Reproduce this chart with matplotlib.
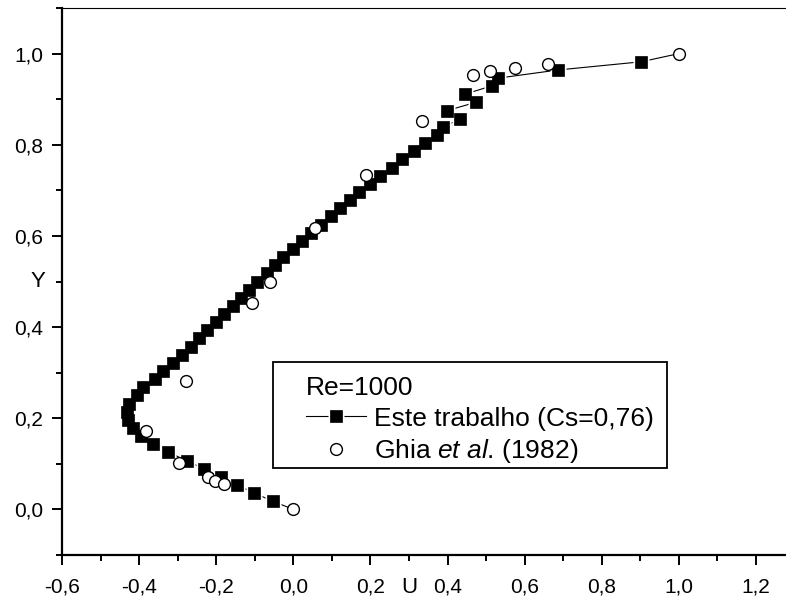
import matplotlib
matplotlib.use("Agg")
import matplotlib.pyplot as plt
from matplotlib.ticker import MultipleLocator, FuncFormatter
from matplotlib.legend_handler import HandlerTuple
from matplotlib.patches import Rectangle

plt.rcParams["font.family"] = ["Liberation Sans", "DejaVu Sans"]
plt.rcParams["mathtext.fontset"] = "custom"
plt.rcParams["mathtext.rm"] = "Liberation Sans"
plt.rcParams["mathtext.it"] = "Liberation Sans:italic"

# Centreline U profile, present LES run (Cs = 0.76)
sim_y = [0.0, 0.018, 0.036, 0.054, 0.071, 0.089, 0.107, 0.125, 0.143, 0.161,
         0.179, 0.196, 0.214, 0.232, 0.250, 0.268, 0.286, 0.304, 0.321, 0.339,
         0.357, 0.375, 0.393, 0.411, 0.429, 0.446, 0.464, 0.482, 0.500, 0.518,
         0.536, 0.554, 0.571, 0.589, 0.607, 0.625, 0.643, 0.661, 0.679, 0.696,
         0.714, 0.732, 0.750, 0.768, 0.786, 0.804, 0.821, 0.839, 0.857, 0.875,
         0.893, 0.911, 0.929, 0.946, 0.964, 0.982, 1.0]
sim_u = [0.0, -0.053, -0.102, -0.147, -0.188, -0.233, -0.276, -0.324, -0.365,
         -0.396, -0.416, -0.430, -0.432, -0.427, -0.406, -0.389, -0.360, -0.339,
         -0.313, -0.289, -0.266, -0.244, -0.223, -0.200, -0.180, -0.157, -0.136,
         -0.114, -0.093, -0.069, -0.047, -0.026, -0.002, 0.022, 0.046, 0.071,
         0.097, 0.121, 0.147, 0.171, 0.199, 0.225, 0.255, 0.283, 0.314, 0.342,
         0.372, 0.389, 0.433, 0.399, 0.473, 0.445, 0.514, 0.530, 0.686, 0.902,
         1.0]

# Ghia, Ghia & Shin (1982), Re = 1000
ghia_y = [1.0000, 0.9766, 0.9688, 0.9609, 0.9531, 0.8516, 0.7344, 0.6172,
          0.5000, 0.4531, 0.2813, 0.1719, 0.1016, 0.0703, 0.0625, 0.0547, 0.0]
ghia_u = [1.0, 0.65928, 0.57492, 0.51117, 0.46604, 0.33304, 0.18719, 0.05702,
          -0.06080, -0.10648, -0.27805, -0.38289, -0.29730, -0.22220, -0.20196,
          -0.18109, 0.0]

W, H = 786, 600
fig = plt.figure(figsize=(W / 100, H / 100), dpi=100)
# x from -0.6 to 1.3; the right end runs past the canvas edge
ax = fig.add_axes([62 / W, 45 / H, 732.6 / W, 547 / H])
ax.set_xlim(-0.6, 1.3)
ax.set_ylim(-0.1, 1.1)

inner = slice(1, -1)
line, = ax.plot(sim_u, sim_y, "-", color="black", lw=0.8, zorder=2)
# white squares under the symbols leave a small gap in the line
halo, = ax.plot(sim_u[inner], sim_y[inner], "s", ls="none", ms=11.5,
                mfc="white", mec="none", zorder=3)
sq, = ax.plot(sim_u[inner], sim_y[inner], "s", ls="none", ms=8,
              mfc="black", mec="black", mew=0.5, zorder=4)
circ, = ax.plot(ghia_u, ghia_y, "o", ls="none", ms=8.5, mfc="white",
                mec="black", mew=1.0, zorder=5)

ax.spines["right"].set_visible(False)
ax.spines["top"].set_linewidth(0.8)
ax.spines["left"].set_linewidth(1.6)
ax.spines["bottom"].set_linewidth(1.6)

comma = FuncFormatter(lambda v, _: f"{v:.1f}".replace(".", ","))
ax.xaxis.set_major_locator(MultipleLocator(0.2))
ax.xaxis.set_minor_locator(MultipleLocator(0.1))
ax.yaxis.set_major_locator(MultipleLocator(0.2))
ax.yaxis.set_minor_locator(MultipleLocator(0.1))
ax.xaxis.set_major_formatter(comma)
ax.yaxis.set_major_formatter(comma)
ax.set_yticks([0.0, 0.2, 0.4, 0.6, 0.8, 1.0])
ax.tick_params(which="both", direction="out", width=1.4, top=False, right=False)
ax.tick_params(which="major", length=7.5, labelsize=15)
ax.tick_params(which="minor", length=4)
ax.tick_params(axis="x", which="major", pad=9)
ax.tick_params(axis="y", which="major", pad=6)

ax.set_xlabel("U", fontsize=16)
ax.xaxis.set_label_coords(0.4737, -0.060)
ax.xaxis.label.set_va("center")
ax.set_ylabel("Y", fontsize=16, rotation=0)
ax.yaxis.set_label_coords(-0.033, 0.5)
ax.yaxis.label.set_va("center")
ax.yaxis.label.set_ha("center")

leg = ax.legend([(line, halo, sq), circ],
                ["Este trabalho (Cs=0,76)", r"Ghia $\mathit{et\ al}$. (1982)"],
                handler_map={tuple: HandlerTuple(ndivide=1)},
                title="Re=1000", title_fontsize=19, fontsize=19,
                alignment="left", frameon=False, borderpad=0,
                borderaxespad=0, handlelength=2.27, handletextpad=0.3,
                labelspacing=0.25, loc="upper left",
                bbox_to_anchor=(306 / W, 1 - 376 / H),
                bbox_transform=fig.transFigure)
fig.add_artist(Rectangle((273 / W, 1 - 468 / H), (667 - 273) / W,
                         (468 - 362) / H, transform=fig.transFigure,
                         fill=False, ec="black", lw=1.3))

fig.savefig("out.png", dpi=100)
